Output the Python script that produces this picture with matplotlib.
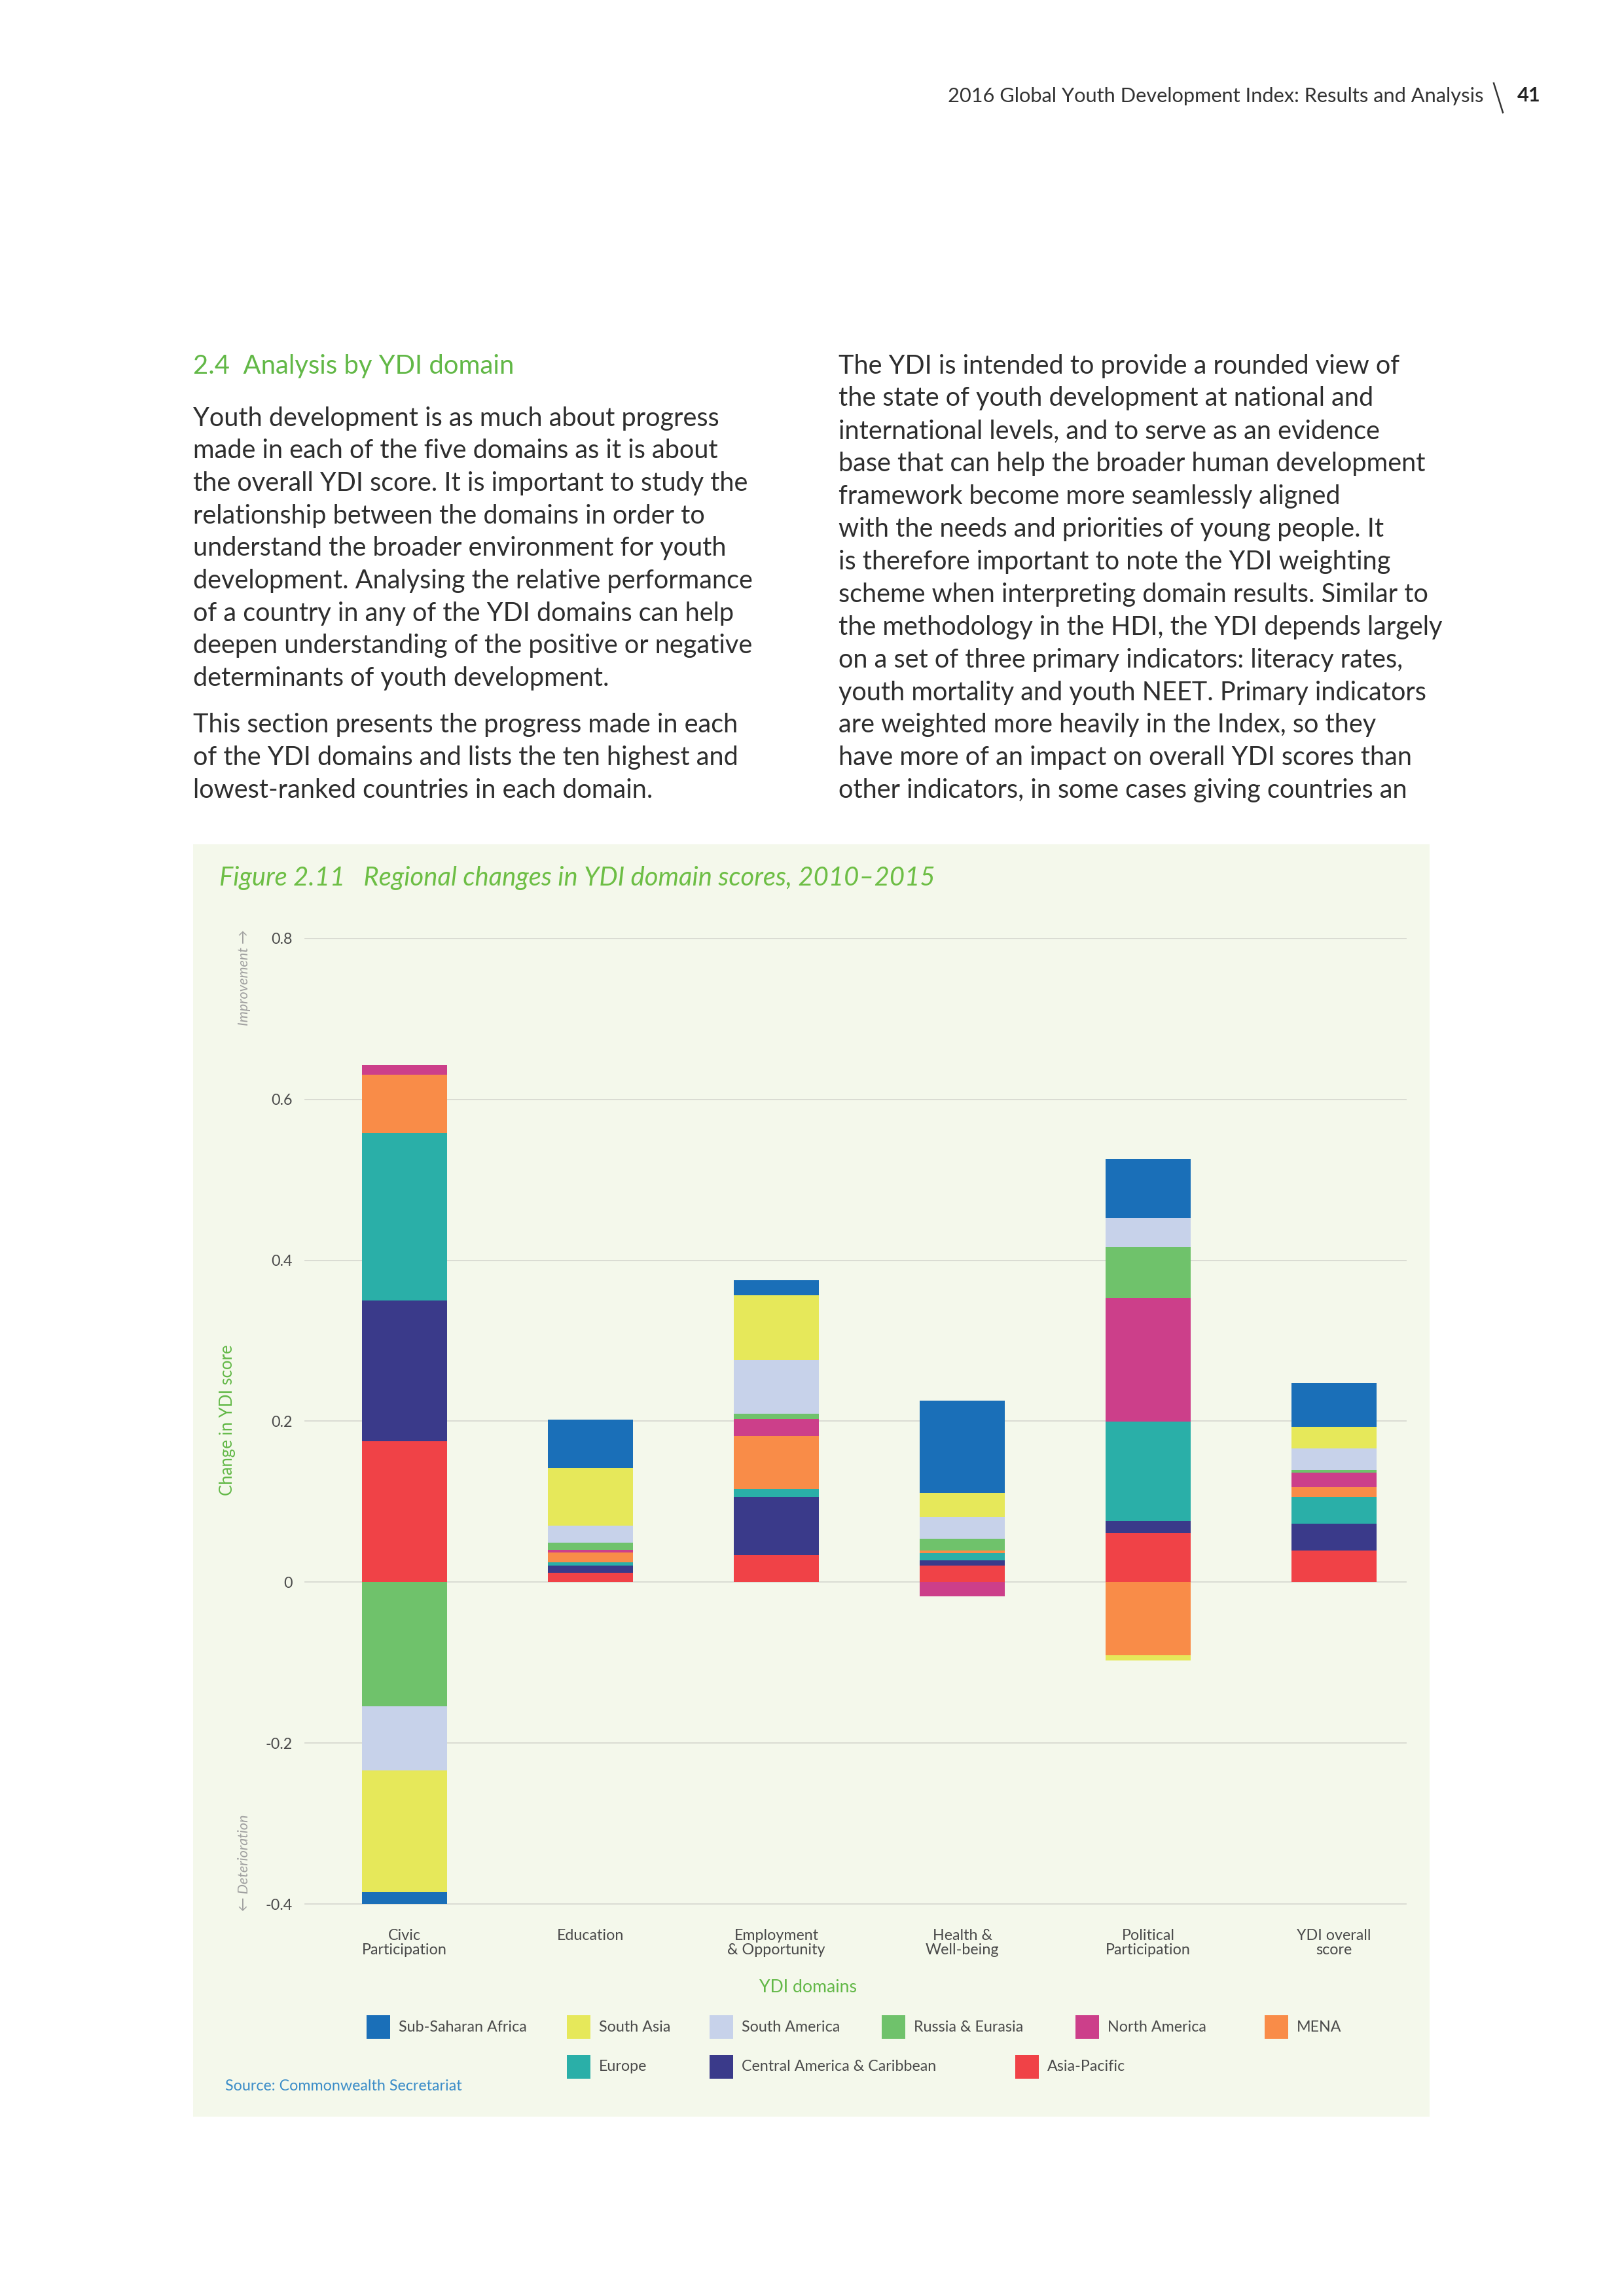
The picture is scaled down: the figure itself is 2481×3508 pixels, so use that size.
import numpy as np
import matplotlib
matplotlib.use("Agg")
import matplotlib.pyplot as plt
from matplotlib.patches import Rectangle
from matplotlib.lines import Line2D

plt.rcParams['font.family'] = ['Lato', 'DejaVu Sans']

# ---------------------------
# Data (change in YDI score, 2010-2015)
# ---------------------------
domains = ["Civic\nParticipation", "Education", "Employment\n& Opportunity",
           "Health &\nWell-being", "Political\nParticipation", "YDI overall\nscore"]

# legend order
regions = ["Sub-Saharan Africa", "South Asia", "South America", "Russia & Eurasia",
           "North America", "MENA", "Europe", "Central America & Caribbean", "Asia-Pacific"]

sub_saharan_africa = [-0.015, 0.060, 0.018, 0.115, 0.073, 0.055]
south_asia = [-0.151, 0.072, 0.081, 0.030, -0.006, 0.027]
south_america = [-0.080, 0.021, 0.067, 0.027, 0.036, 0.027]
russia_eurasia = [-0.154, 0.009, 0.006, 0.015, 0.064, 0.003]
north_america = [0.012, 0.003, 0.021, -0.018, 0.153, 0.018]
mena = [0.073, 0.012, 0.066, 0.003, -0.091, 0.012]
europe = [0.208, 0.004, 0.010, 0.009, 0.124, 0.033]
central_america = [0.175, 0.009, 0.072, 0.006, 0.015, 0.034]
asia_pacific = [0.175, 0.012, 0.034, 0.021, 0.061, 0.039]

series = [sub_saharan_africa, south_asia, south_america, russia_eurasia,
          north_america, mena, europe, central_america, asia_pacific]
colors = ["#1A6FB8", "#E6E85A", "#C7D2EA", "#6FC26B", "#CC3F8A",
          "#F98C48", "#2AAFA8", "#3A3A8A", "#F04247"]

yticks = [-0.4, -0.2, 0, 0.2, 0.4, 0.6, 0.8]
ytick_labels = ["-0.4", "-0.2", "0", "0.2", "0.4", "0.6", "0.8"]

GREEN = "#62B847"
TEXT = "#2e2e2e"

# ---------------------------
# Page text
# ---------------------------
left_par1 = [
    "Youth development is as much about progress",
    "made in each of the five domains as it is about",
    "the overall YDI score. It is important to study the",
    "relationship between the domains in order to",
    "understand the broader environment for youth",
    "development. Analysing the relative performance",
    "of a country in any of the YDI domains can help",
    "deepen understanding of the positive or negative",
    "determinants of youth development.",
]
left_par2 = [
    "This section presents the progress made in each",
    "of the YDI domains and lists the ten highest and",
    "lowest-ranked countries in each domain.",
]
right_par = [
    "The YDI is intended to provide a rounded view of",
    "the state of youth development at national and",
    "international levels, and to serve as an evidence",
    "base that can help the broader human development",
    "framework become more seamlessly aligned",
    "with the needs and priorities of young people. It",
    "is therefore important to note the YDI weighting",
    "scheme when interpreting domain results. Similar to",
    "the methodology in the HDI, the YDI depends largely",
    "on a set of three primary indicators: literacy rates,",
    "youth mortality and youth NEET. Primary indicators",
    "are weighted more heavily in the Index, so they",
    "have more of an impact on overall YDI scores than",
    "other indicators, in some cases giving countries an",
]

W, H = 2481, 3508
fig = plt.figure(figsize=(W / 300, H / 300), dpi=300)
fig.patch.set_facecolor("white")


def fx(x):
    return x / W


def fy(y):
    return 1 - y / H


# header
fig.text(fx(2266), fy(147), "2016 Global Youth Development Index: Results and Analysis",
         ha="right", va="center", fontsize=7.4, color="#333333")
fig.add_artist(Line2D([fx(2282), fx(2296)], [fy(127), fy(172)], color="#333333", lw=0.6))
fig.text(fx(2318), fy(146), "41", ha="left", va="center", fontsize=7.4,
         color="#222222", fontweight="bold")

# section heading and body text
fig.text(fx(295), fy(559), "2.4  Analysis by YDI domain", ha="left", va="center",
         fontsize=9.6, color=GREEN)
for i, line in enumerate(left_par1):
    fig.text(fx(295), fy(639 + i * 49.7), line, ha="left", va="center",
             fontsize=9.5, color=TEXT)
for i, line in enumerate(left_par2):
    fig.text(fx(295), fy(1108 + i * 49.7), line, ha="left", va="center",
             fontsize=9.5, color=TEXT)
for i, line in enumerate(right_par):
    fig.text(fx(1281), fy(559 + i * 49.9), line, ha="left", va="center",
             fontsize=9.5, color=TEXT)

# figure panel
fig.add_artist(Rectangle((fx(295), fy(3234)), (2184 - 295) / W, (3234 - 1290) / H,
                         transform=fig.transFigure, facecolor="#F4F8EB",
                         edgecolor="none", zorder=0))
fig.text(fx(335), fy(1342), "Figure 2.11   Regional changes in YDI domain scores, 2010\u20132015",
         ha="left", va="center", fontsize=9.6, color="#6DBE45", style="italic")

# ---------------------------
# Stacked bars
# ---------------------------
ax = fig.add_axes([fx(466), fy(2909), (2148 - 466) / W, (2909 - 1434) / H])
ax.set_facecolor("none")

x = np.arange(len(domains))
pos_bottom = np.zeros(len(domains))
neg_bottom = np.zeros(len(domains))
# stack from the bottom: Asia-Pacific first, Sub-Saharan Africa last
for vals, col, name in zip(series[::-1], colors[::-1], regions[::-1]):
    vals = np.array(vals)
    bottom = np.where(vals >= 0, pos_bottom, neg_bottom)
    ax.bar(x, vals, width=0.46, bottom=bottom, color=col, label=name, zorder=3)
    pos_bottom += np.where(vals >= 0, vals, 0)
    neg_bottom += np.where(vals < 0, vals, 0)

ax.set_xlim(-0.535, 5.387)
ax.set_ylim(-0.4, 0.8)
ax.set_yticks(yticks)
ax.set_yticklabels(ytick_labels)
ax.set_xticks(x)
ax.set_xticklabels(domains, linespacing=1.1)
ax.yaxis.grid(True, color="#D9DBD2", lw=0.45, zorder=0)
for gl in ax.get_ygridlines():
    gl.set_clip_on(False)
ax.tick_params(axis="both", length=0, labelsize=5.6, colors="#4a4a4a")
ax.tick_params(axis="y", pad=4.5)
ax.tick_params(axis="x", pad=9)
for s in ax.spines.values():
    s.set_visible(False)

# axis titles
fig.text(fx(347), fy(2170), "Change in YDI score", rotation=90, ha="center", va="center",
         fontsize=6.2, color=GREEN)
fig.text(fx(373), fy(1420), "Improvement \u2192", rotation=90, ha="center", va="top",
         fontsize=5.2, color="#a0a0a0", style="italic")
fig.text(fx(373), fy(2920), "\u2190 Deterioration", rotation=90, ha="center", va="bottom",
         fontsize=5.2, color="#a0a0a0", style="italic")
fig.text(fx(1235), fy(3036), "YDI domains", ha="center", va="center",
         fontsize=6.4, color=GREEN)

# legend drawn as two rows like the original
leg_x = [560, 866, 1084, 1347, 1643, 1932, 866, 1084, 1551]
leg_y = [3097] * 6 + [3158] * 3
for name, col, lx, ly in zip(regions, colors, leg_x, leg_y):
    fig.add_artist(Rectangle((fx(lx), fy(ly + 18)), 36 / W, 36 / H,
                             transform=fig.transFigure, facecolor=col, edgecolor="none"))
    fig.text(fx(lx + 49), fy(ly), name, ha="left", va="center", fontsize=5.6,
             color="#4a4a4a")

fig.text(fx(344), fy(3187), "Source: Commonwealth Secretariat", ha="left", va="center",
         fontsize=5.6, color="#3C8DC8")

fig.savefig("out.png", dpi=300)
